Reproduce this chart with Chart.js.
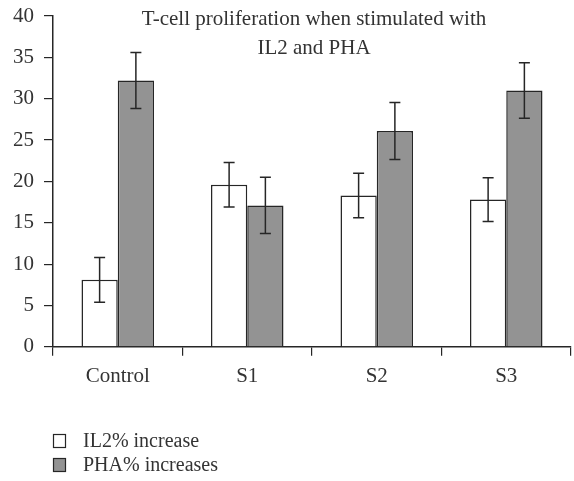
<!DOCTYPE html>
<html>
<head>
<meta charset="utf-8">
<script src="https://cdn.jsdelivr.net/npm/chart.js@4/dist/chart.umd.min.js"></script>
<style>
  html, body { margin: 0; padding: 0; background: #fff; }
  #wrap { width: 574px; height: 481px; position: relative; }
</style>
</head>
<body>
<div id="wrap"><canvas id="c" width="574" height="481"></canvas></div>
<script>
const categories = ["Control", "S1", "S2", "S3"];
const il2Values = [8.1, 19.6, 18.3, 17.8];
const il2Errors = [2.7, 2.7, 2.7, 2.65];
const phaValues = [32.2, 17.1, 26.1, 31.0];
const phaErrors = [3.4, 3.4, 3.45, 3.35];
const seriesLabels = ["IL2% increase", "PHA% increases"];
const titleLines = ["T-cell proliferation when stimulated with", "IL2 and PHA"];
const yTicks = [0, 5, 10, 15, 20, 25, 30, 35, 40];

const FONT = "'Liberation Serif', 'Times New Roman', serif";
const TEXT = "#333333";
const EDGE = "#262626";

const errorBars = {
  id: 'errorBars',
  afterDatasetsDraw(chart) {
    const ctx = chart.ctx;
    const y = chart.scales.y;
    ctx.save();
    ctx.strokeStyle = EDGE;
    ctx.lineWidth = 1.5;
    chart.data.datasets.forEach((ds, di) => {
      const meta = chart.getDatasetMeta(di);
      meta.data.forEach((bar, i) => {
        const v = ds.data[i], e = ds.errors[i];
        const x = bar.x;
        const yt = y.getPixelForValue(v + e);
        const yb = y.getPixelForValue(v - e);
        ctx.beginPath();
        ctx.moveTo(x, yt); ctx.lineTo(x, yb);
        ctx.moveTo(x - 5.5, yt); ctx.lineTo(x + 5.5, yt);
        ctx.moveTo(x - 5.5, yb); ctx.lineTo(x + 5.5, yb);
        ctx.stroke();
      });
    });
    ctx.restore();
  }
};

const titleAndLegend = {
  id: 'titleAndLegend',
  afterDraw(chart) {
    const ctx = chart.ctx;
    const area = chart.chartArea;
    ctx.save();
    ctx.fillStyle = TEXT;
    ctx.font = "21px " + FONT;
    ctx.textAlign = 'center';
    ctx.textBaseline = 'alphabetic';
    const cx = (area.left + area.right) / 2 + 2;
    ctx.fillText(titleLines[0], cx, 25);
    ctx.fillText(titleLines[1], cx, 54);
    // legend
    ctx.font = "20px " + FONT;
    ctx.textAlign = 'left';
    chart.data.datasets.forEach((ds, i) => {
      const top = 434 + i * 24;
      ctx.fillStyle = ds.backgroundColor;
      ctx.fillRect(53.5, top + 0.5, 12, 13);
      ctx.strokeStyle = EDGE;
      ctx.lineWidth = 1.2;
      ctx.strokeRect(53.5, top + 0.5, 12, 13);
      ctx.fillStyle = TEXT;
      ctx.fillText(ds.label, 83, top + 13);
    });
    ctx.restore();
  }
};

new Chart(document.getElementById('c'), {
  type: 'bar',
  data: {
    labels: categories,
    datasets: [
      { label: seriesLabels[0], data: il2Values, errors: il2Errors,
        backgroundColor: '#ffffff', borderColor: EDGE, borderWidth: 1.5 },
      { label: seriesLabels[1], data: phaValues, errors: phaErrors,
        backgroundColor: '#939393', borderColor: EDGE, borderWidth: 1.5 }
    ]
  },
  options: {
    responsive: false,
    animation: false,
    events: [],
    layout: { padding: { left: 3, right: 3, top: 16, bottom: 84 } },
    datasets: { bar: { categoryPercentage: 0.56, barPercentage: 1.0 } },
    plugins: {
      legend: { display: false },
      title: { display: false },
      tooltip: { enabled: false }
    },
    scales: {
      x: {
        grid: { display: true, drawOnChartArea: false, drawTicks: true, tickLength: 9, color: EDGE, lineWidth: 1.2, offset: true },
        border: { display: true, color: EDGE, width: 1.5 },
        ticks: { color: TEXT, font: { family: FONT, size: 21 }, padding: 8 }
      },
      y: {
        min: 0, max: 40,
        afterBuildTicks(scale) { scale.ticks = yTicks.map(v => ({ value: v })); },
        afterFit(scale) { scale.paddingTop = 0; },
        grid: { display: true, drawOnChartArea: false, drawTicks: true, tickLength: 9, color: EDGE, lineWidth: 1.2 },
        border: { display: true, color: EDGE, width: 1.5 },
        ticks: { color: TEXT, font: { family: FONT, size: 21 }, padding: 10 }
      }
    }
  },
  plugins: [errorBars, titleAndLegend]
});
</script>
</body>
</html>
